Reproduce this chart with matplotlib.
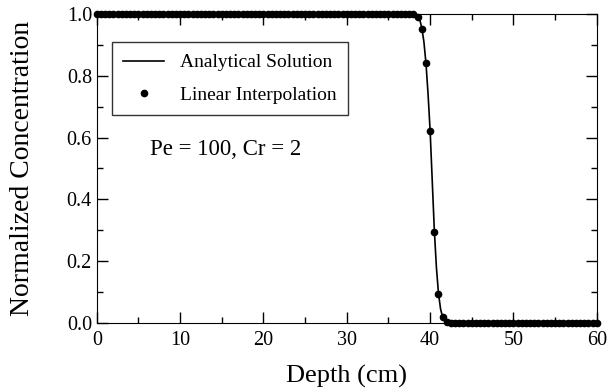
import numpy as np
import matplotlib
matplotlib.use("Agg")
import matplotlib.pyplot as plt
from matplotlib.ticker import MultipleLocator

# analytical solution
ana_depth = [0, 38.0, 38.25, 38.5, 38.75, 39.0, 39.25, 39.5, 39.75, 40.0, 40.25,
             40.5, 40.75, 41.0, 41.25, 41.5, 41.75, 42.0, 42.5, 60]
ana_conc = [1.0, 1.0, 0.998, 0.993, 0.982, 0.955, 0.91, 0.84, 0.74, 0.62, 0.46,
            0.30, 0.18, 0.095, 0.045, 0.018, 0.006, 0.002, 0.0, 0.0]

# linear interpolation points, every 0.5 cm
lin_depth = np.arange(0, 60.5, 0.5)
lin_conc = [1.0] * 77 + [0.99, 0.95, 0.84, 0.62, 0.295, 0.095, 0.02, 0.003] + [0.0] * 36

plt.rcParams['font.family'] = ['Liberation Serif', 'DejaVu Serif']

fig = plt.figure(figsize=(6.09, 3.9), dpi=100)
ax = fig.add_axes([0.159, 0.172, 0.821, 0.792])

ax.plot(ana_depth, ana_conc, color='black', lw=1.2, label='Analytical Solution')
ax.plot(lin_depth, lin_conc, 'o', color='black', ms=4.5, label='Linear Interpolation', clip_on=False)

ax.set_xlim(0, 60)
ax.set_ylim(0, 1)
ax.xaxis.set_major_locator(MultipleLocator(10))
ax.xaxis.set_minor_locator(MultipleLocator(5))
ax.yaxis.set_major_locator(MultipleLocator(0.2))
ax.yaxis.set_minor_locator(MultipleLocator(0.1))
ax.yaxis.set_major_formatter(matplotlib.ticker.FormatStrFormatter('%.1f'))
ax.tick_params(which='both', direction='in', top=True, right=True, labelsize=14.5, width=1)
ax.tick_params(which='major', length=8)
ax.tick_params(which='minor', length=4)
ax.tick_params(axis='x', pad=6)

ax.set_xlabel('Depth (cm)', fontsize=19, labelpad=10.5)
ax.set_ylabel('Normalized Concentration', fontsize=20, labelpad=23)

leg = ax.legend(loc='upper left', bbox_to_anchor=(0.03, 0.909), fontsize=14,
                frameon=True, fancybox=False, edgecolor='black', handlelength=2.1,
                borderpad=0.6, labelspacing=0.75, borderaxespad=0)
leg.get_frame().set_linewidth(1)

ax.text(0.106, 0.56, 'Pe = 100, Cr = 2', transform=ax.transAxes, fontsize=16.5, va='center')

fig.savefig('out.png', dpi=100)
